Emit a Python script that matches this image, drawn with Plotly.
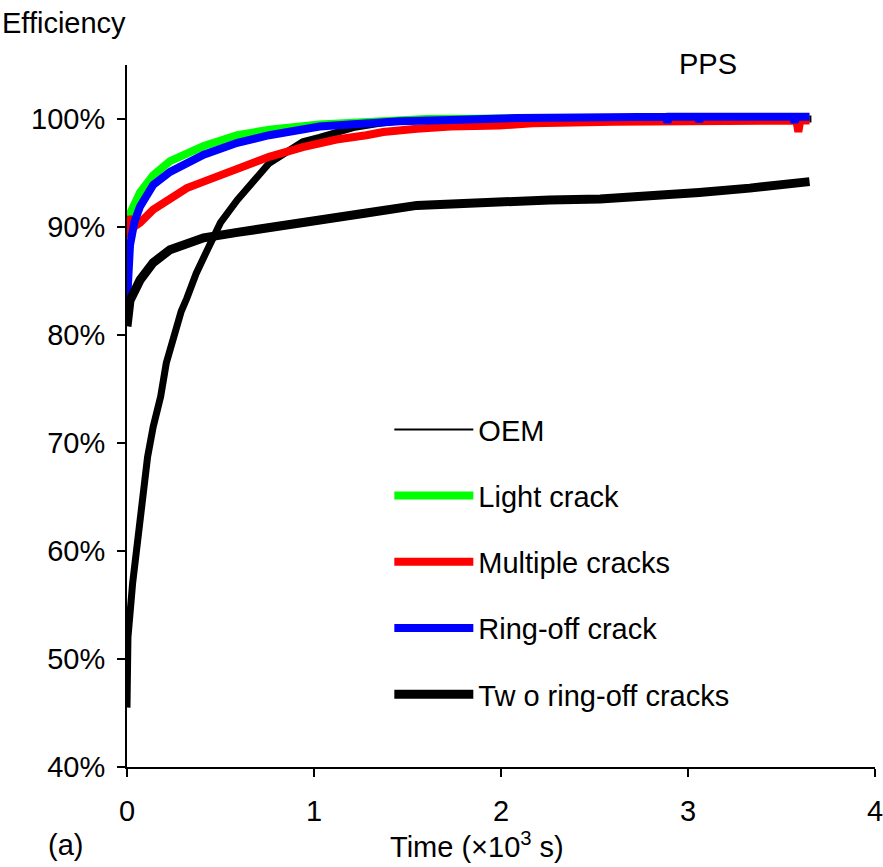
import plotly.graph_objects as go

# ---- data (time in 10^3 s, efficiency in %) ----
oem_t = [0.0, 0.005, 0.03, 0.06, 0.09, 0.11, 0.14, 0.18, 0.21, 0.25, 0.29, 0.32,
         0.37, 0.43, 0.50, 0.59, 0.68, 0.76, 0.85, 0.94, 1.03, 1.12, 1.21, 1.35,
         1.5, 2.0, 3.0, 3.66]
oem_v = [45.5, 52.0, 57.0, 61.7, 65.6, 68.7, 71.5, 74.3, 77.4, 80.0, 82.2, 83.4,
         85.7, 87.9, 90.4, 92.5, 94.4, 95.9, 96.9, 97.9, 98.3, 98.8, 99.2, 99.6,
         99.9, 100.0, 100.0, 100.0]

light_t = [0.0, 0.01, 0.07, 0.14, 0.23, 0.41, 0.59, 0.76, 1.03, 1.28, 1.6, 2.5, 3.65]
light_v = [90.0, 91.0, 93.2, 94.8, 96.1, 97.5, 98.5, 99.0, 99.5, 99.8, 100.0, 100.1, 100.0]

multi_t = [0.0, 0.005, 0.02, 0.04, 0.07, 0.14, 0.23, 0.32, 0.41, 0.59, 0.76, 0.94,
           1.12, 1.28, 1.37, 1.55, 1.73, 1.99, 2.17, 2.6, 3.0, 3.58, 3.59, 3.60, 3.65]
multi_v = [89.0, 91.0, 89.8, 90.0, 90.4, 91.6, 92.7, 93.6, 94.2, 95.3, 96.5, 97.4,
           98.1, 98.5, 98.8, 99.1, 99.3, 99.4, 99.6, 99.75, 99.8, 99.85, 98.8, 99.85, 99.85]

ring_t = [0.0, 0.008, 0.016, 0.04, 0.07, 0.14, 0.23, 0.41, 0.59, 0.76, 1.03, 1.19,
          1.46, 1.73, 2.09, 2.88, 2.89, 2.90, 3.05, 3.06, 3.07, 3.56, 3.57, 3.58, 3.65]
ring_v = [83.0, 86.5, 88.3, 90.5, 91.9, 93.9, 95.1, 96.7, 97.8, 98.5, 99.3, 99.5,
          99.8, 99.9, 100.1, 100.2, 99.7, 100.2, 100.2, 99.8, 100.2, 100.2, 99.7, 100.2, 100.2]

two_t = [0.0, 0.016, 0.07, 0.14, 0.23, 0.32, 0.41, 0.59, 0.76, 0.94, 1.12, 1.28,
         1.55, 1.9, 2.26, 2.53, 2.8, 3.06, 3.33, 3.6, 3.65]
two_v = [80.8, 83.2, 85.1, 86.7, 87.9, 88.5, 89.0, 89.5, 89.9, 90.5, 90.9, 91.3,
         92.0, 92.3, 92.5, 92.6, 92.8, 93.2, 93.6, 94.1, 94.2]

y_ticks = [40, 50, 60, 70, 80, 90, 100]
y_tick_labels = ["40%", "50%", "60%", "70%", "80%", "90%", "100%"]
x_ticks = [0, 1, 2, 3, 4]

FONT = "Liberation Sans, Arial, sans-serif"
FS = 29

fig = go.Figure()

# OEM: plotted band (legend shows a thin line via a legend-only trace)
fig.add_trace(go.Scatter(x=oem_t, y=oem_v, mode="lines", name="OEM",
                         line=dict(color="black", width=7), showlegend=False,
                         legendgroup="oem"))
fig.add_trace(go.Scatter(x=light_t, y=light_v, mode="lines", name="Light crack",
                         line=dict(color="#00ff00", width=8), legendgroup="light",
                         legendrank=2))
fig.add_trace(go.Scatter(x=multi_t, y=multi_v, mode="lines", name="Multiple cracks",
                         line=dict(color="#ff0000", width=8), legendgroup="multi",
                         legendrank=3))
fig.add_trace(go.Scatter(x=ring_t, y=ring_v, mode="lines", name="Ring-off crack",
                         line=dict(color="#0000ff", width=8), legendgroup="ring",
                         legendrank=4))
fig.add_trace(go.Scatter(x=two_t, y=two_v, mode="lines", name="Tw o ring-off cracks",
                         line=dict(color="black", width=9), legendgroup="two",
                         legendrank=5))
fig.add_trace(go.Scatter(x=[None], y=[None], mode="lines", name="OEM",
                         line=dict(color="black", width=2), legendgroup="oem",
                         legendrank=1))

fig.update_layout(
    width=883, height=867,
    margin=dict(l=127, r=8, t=65, b=100, autoexpand=False),
    plot_bgcolor="white", paper_bgcolor="white",
    font=dict(family=FONT, size=FS, color="black"),
    showlegend=True,
    legend=dict(x=0.3507, y=0.517, xanchor="left", yanchor="top",
                bgcolor="rgba(0,0,0,0)", borderwidth=0,
                tracegroupgap=25.5, itemwidth=79,
                font=dict(family=FONT, size=FS, color="black")),
    xaxis=dict(range=[0, 4], tickvals=x_ticks, showgrid=False, zeroline=False,
               showline=True, linecolor="black", linewidth=2, automargin=False,
               ticks="outside", ticklen=8, tickwidth=2, tickcolor="black",
               ticklabelstandoff=9, ticklabeloverflow="allow",
               tickfont=dict(family=FONT, size=FS)),
    yaxis=dict(range=[40, 105], tickvals=y_ticks, ticktext=y_tick_labels,
               showgrid=False, zeroline=False, automargin=False,
               showline=True, linecolor="black", linewidth=2,
               ticks="outside", ticklen=8, tickwidth=2, tickcolor="black",
               ticklabelstandoff=6, ticklabeloverflow="allow",
               tickfont=dict(family=FONT, size=FS)),
    annotations=[
        dict(text="Efficiency", xref="paper", yref="paper", x=-127/748, y=(767-23)/702,
             xanchor="left", yanchor="middle", showarrow=False,
             font=dict(family=FONT, size=FS)),
        dict(text="PPS", xref="paper", yref="paper", x=(708-127)/748, y=(767-64)/702,
             xanchor="center", yanchor="middle", showarrow=False,
             font=dict(family=FONT, size=FS)),
        dict(text="Time (×10<sup>3</sup> s)", xref="paper", yref="paper",
             x=(477-127)/748, y=(767-845)/702,
             xanchor="center", yanchor="middle", showarrow=False,
             font=dict(family=FONT, size=FS)),
        dict(text="(a)", xref="paper", yref="paper", x=(65-127)/748, y=(767-845)/702,
             xanchor="center", yanchor="middle", showarrow=False,
             font=dict(family=FONT, size=FS)),
    ],
)

fig.write_html("out.html", config={"displayModeBar": False},
               post_script="document.body.style.margin='0';document.body.style.padding='0';")
